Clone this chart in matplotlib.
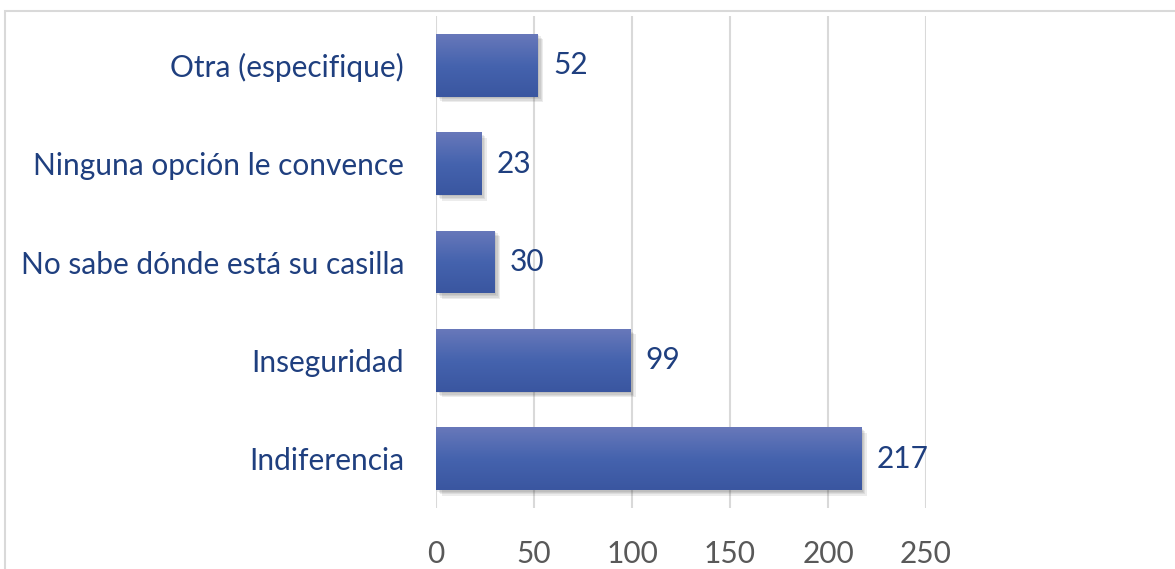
import numpy as np
import matplotlib
matplotlib.use("Agg")
import matplotlib.pyplot as plt
import matplotlib.patheffects as pe
from matplotlib.patches import Rectangle
from matplotlib.colors import LinearSegmentedColormap

# -------------------------------------------------------------------------
# DATA
# -------------------------------------------------------------------------
categories = [
    "Indiferencia",
    "Inseguridad",
    "No sabe dónde está su casilla",
    "Ninguna opción le convence",
    "Otra (especifique)",
]
counts = [217, 99, 30, 23, 52]
x_ticks = [0, 50, 100, 150, 200, 250]

# -------------------------------------------------------------------------
# STYLE
# -------------------------------------------------------------------------
TEXT_COLOR = "#1f3f7f"
TICK_COLOR = "#595959"
GRID_COLOR = "#d9d9d9"
FONT = "Lato"
FS = 21.5

plt.rcParams["font.family"] = [FONT, "DejaVu Sans"]

W, H = 1175, 569
fig = plt.figure(figsize=(W / 100, H / 100), dpi=100)
fig.patch.set_facecolor("white")

# chart area border (light gray frame, cut off at right and bottom)
frame = Rectangle((5 / W, -0.1), 1.2, 1.1 - 11 / H, transform=fig.transFigure,
                  fill=False, edgecolor=GRID_COLOR, linewidth=1.5)
fig.patches.append(frame)

ax = fig.add_axes([436 / W, 1 - 508 / H, (926 - 436) / W, (508 - 16) / H])

y = np.arange(len(categories))
# soft shadow: a few faint offset copies stacked behind the bar
shadow = [pe.SimplePatchShadow(offset=(d, -d), shadow_rgbFace="#303030", alpha=0.09)
          for d in (4, 3, 2, 1)]
bars = ax.barh(y, counts, height=0.64, color="#4462ad", zorder=3,
               path_effects=shadow + [pe.Normal()])

# vertical gradient on each bar (lighter top, darker bottom)
cmap = LinearSegmentedColormap.from_list("bar", ["#3a56a0", "#4563ae", "#6878ba"])
grad = np.linspace(0, 1, 256).reshape(-1, 1)
for bar in bars:
    x0, y0 = bar.get_x(), bar.get_y()
    w, h = bar.get_width(), bar.get_height()
    im = ax.imshow(grad, cmap=cmap, aspect="auto", origin="lower",
                   extent=[x0, x0 + w, y0, y0 + h], zorder=4)
    im.set_clip_path(bar)

for yi, v in zip(y, counts):
    ax.annotate(str(v), (v, yi), xytext=(11, 0), textcoords="offset points",
                ha="left", va="center", fontsize=FS, color=TEXT_COLOR)

ax.set_xlim(0, 250)
ax.set_ylim(-0.5, len(categories) - 0.5)
ax.set_xticks(x_ticks)
ax.set_yticks(y)
ax.set_yticklabels(categories)
ax.tick_params(axis="y", length=0, pad=23, labelsize=FS, labelcolor=TEXT_COLOR)
ax.tick_params(axis="x", length=0, pad=23, labelsize=FS, labelcolor=TICK_COLOR)
ax.grid(axis="x", color=GRID_COLOR, linewidth=1.5, zorder=0)
ax.set_axisbelow(True)
for s in ax.spines.values():
    s.set_visible(False)

fig.savefig("out.png", dpi=100)
